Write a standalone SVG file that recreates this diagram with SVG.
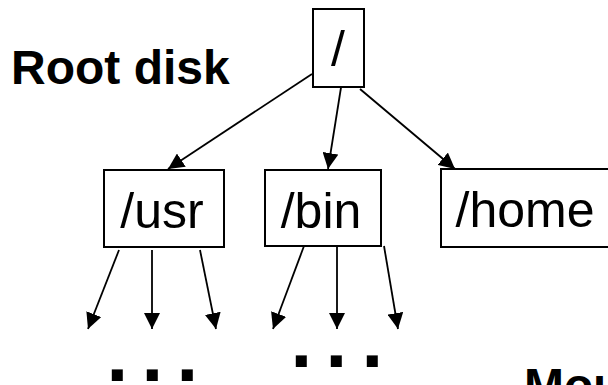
<svg xmlns="http://www.w3.org/2000/svg" width="608" height="385" viewBox="0 0 608 385">
  <style>
    .box { fill: #ffffff; stroke: #000000; stroke-width: 2; }
    .lbl { font-family: "Liberation Sans", Arial, sans-serif; font-size: 50px; fill: #000000; text-anchor: middle; }
    .title { font-family: "Liberation Sans", Arial, sans-serif; font-size: 48px; font-weight: bold; fill: #000000; }
    .dots { font-family: "Liberation Sans", Arial, sans-serif; font-size: 78px; font-weight: bold; fill: #000000; }
    .edge { stroke: #000000; stroke-width: 1.8; fill: none; marker-end: url(#arrow); }
  </style>
  <defs>
    <marker id="arrow" markerUnits="userSpaceOnUse" viewBox="0 0 16 16" refX="16" refY="8" markerWidth="16" markerHeight="16" orient="auto">
      <path d="M0,0 L16,8 L0,16 Z" fill="#000000"/>
    </marker>
  </defs>

  <rect width="608" height="385" fill="#ffffff"/>

  <text class="title" x="11" y="84">Root disk</text>
  <text class="title" x="524" y="402">Mou</text>

  <g id="connectors">
    <line class="edge" x1="312" y1="74" x2="168" y2="169"/>
    <line class="edge" x1="343" y1="75" x2="328" y2="169"/>
    <line class="edge" x1="360" y1="89" x2="455" y2="169"/>

    <line class="edge" x1="119" y1="250" x2="88" y2="329"/>
    <line class="edge" x1="152" y1="250" x2="152" y2="329"/>
    <line class="edge" x1="200" y1="250" x2="216" y2="329"/>

    <line class="edge" x1="304" y1="246" x2="273" y2="329"/>
    <line class="edge" x1="337" y1="246" x2="337" y2="329"/>
    <line class="edge" x1="384" y1="246" x2="398" y2="329"/>
  </g>

  <g id="root">
    <rect class="box" x="313" y="9" width="51" height="78"/>
    <text class="lbl" x="338" y="66">/</text>
  </g>

  <g id="usr">
    <rect class="box" x="104" y="170" width="120" height="77"/>
    <text class="lbl" x="162" y="228">/usr</text>
  </g>

  <g id="bin">
    <rect class="box" x="265" y="170" width="116" height="76"/>
    <text class="lbl" x="321" y="228">/bin</text>
  </g>

  <g id="home">
    <rect class="box" x="441" y="169" width="180" height="78"/>
    <text class="lbl" x="525" y="227">/home</text>
  </g>

  <g id="usr-more">
    <text class="dots" x="106.5 141.5 176.5" y="381">...</text>
  </g>
  <g id="bin-more">
    <text class="dots" x="290.5 325.5 361.5" y="367">...</text>
  </g>
</svg>
